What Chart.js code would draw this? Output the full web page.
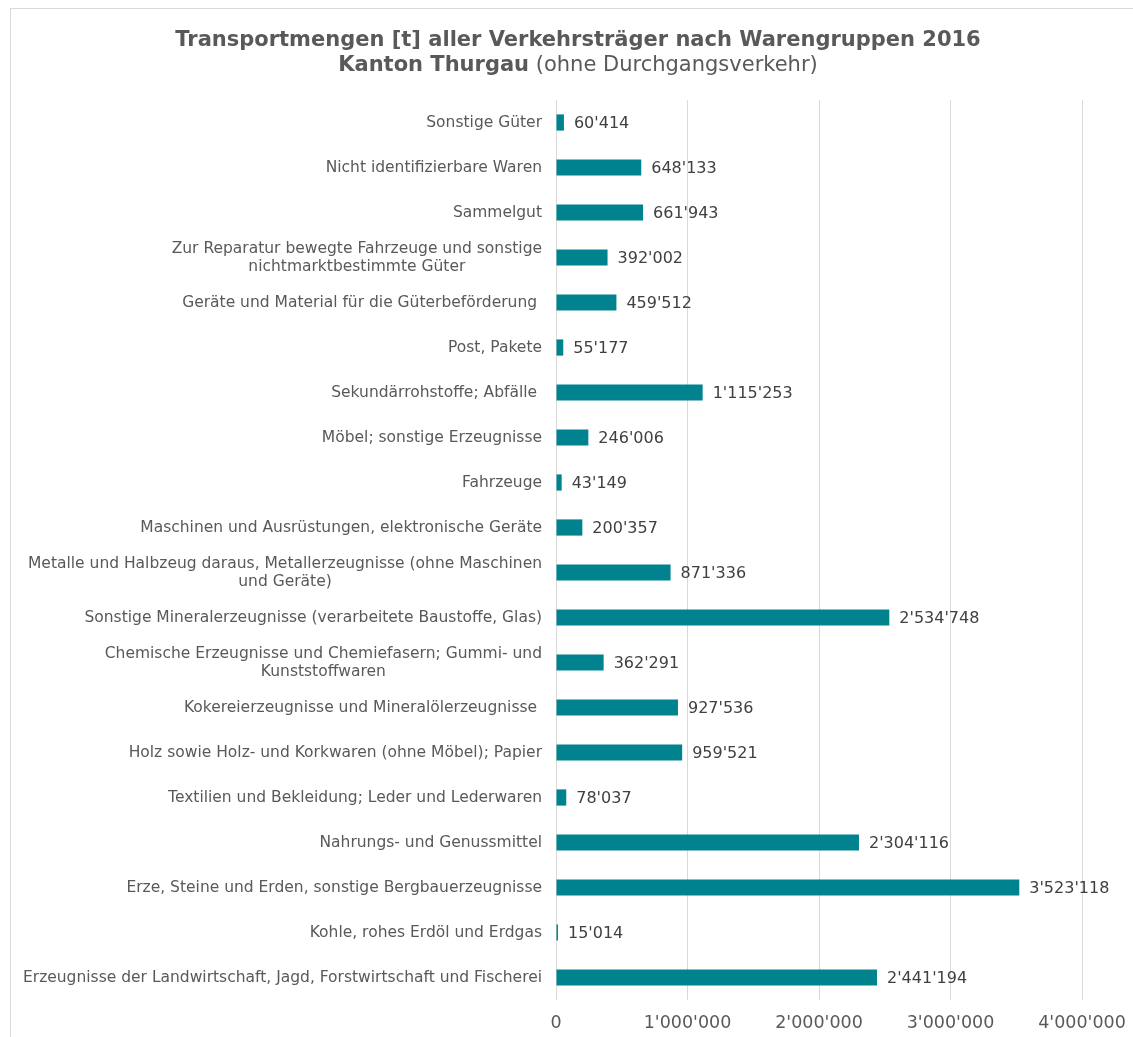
<!DOCTYPE html>
<html>
<head>
<meta charset="utf-8">
<title>Transportmengen Thurgau 2016</title>
<script src="https://cdn.jsdelivr.net/npm/chart.js@4"></script>
<style>
    body { margin: 0; background: #fff; font-family: "DejaVu Sans", Verdana, sans-serif; }
    #wrap { position: relative; width: 1133px; height: 1037px; overflow: hidden; }
    #frame { position: absolute; left: 10px; top: 8px; width: 1200px; height: 1100px; border: 1px solid #d9d9d9; }
    #title { position: absolute; left: 0; width: 1156px; top: 27px; text-align: center; color: #595959;
             font-size: 21px; line-height: 25px; }
    #title b { font-weight: bold; }
    #title span { font-weight: normal; }
    canvas { position: absolute; left: 0; top: 0; }
</style>
</head>
<body>
<div id="wrap">
    <div id="frame"></div>
    <canvas id="chart" width="1133" height="1037"></canvas>
    <div id="title">
        <b>Transportmengen [t] aller Verkehrsträger nach Warengruppen 2016</b><br>
        <b>Kanton Thurgau</b> <span>(ohne Durchgangsverkehr)</span>
    </div>
</div>
<script>
    // Warengruppen, von oben nach unten
    var categories = [
        'Sonstige Güter',
        'Nicht identifizierbare Waren',
        'Sammelgut',
        ['Zur Reparatur bewegte Fahrzeuge und sonstige', 'nichtmarktbestimmte Güter'],
        'Geräte und Material für die Güterbeförderung ',
        'Post, Pakete',
        'Sekundärrohstoffe; Abfälle ',
        'Möbel; sonstige Erzeugnisse',
        'Fahrzeuge',
        'Maschinen und Ausrüstungen, elektronische Geräte',
        ['Metalle und Halbzeug daraus, Metallerzeugnisse (ohne Maschinen', 'und Geräte)'],
        'Sonstige Mineralerzeugnisse (verarbeitete Baustoffe, Glas)',
        ['Chemische Erzeugnisse und Chemiefasern; Gummi- und', 'Kunststoffwaren'],
        'Kokereierzeugnisse und Mineralölerzeugnisse ',
        'Holz sowie Holz- und Korkwaren (ohne Möbel); Papier',
        'Textilien und Bekleidung; Leder und Lederwaren',
        'Nahrungs- und Genussmittel',
        'Erze, Steine und Erden, sonstige Bergbauerzeugnisse',
        'Kohle, rohes Erdöl und Erdgas',
        'Erzeugnisse der Landwirtschaft, Jagd, Forstwirtschaft und Fischerei'
    ];

    // Tonnen
    var tonnes = [
        60414, 648133, 661943, 392002, 459512, 55177, 1115253, 246006, 43149, 200357,
        871336, 2534748, 362291, 927536, 959521, 78037, 2304116, 3523118, 15014, 2441194
    ];

    var xTicks = [0, 1000000, 2000000, 3000000, 4000000];

    var FONT = '"DejaVu Sans", Verdana, sans-serif';

    function swiss(n) {
        return String(n).replace(/\B(?=(\d{3})+(?!\d))/g, "'");
    }

    // Kategorien wie in Excel: mehrzeilige Labels zentriert, Block rechtsbündig
    var categoryLabels = {
        id: 'categoryLabels',
        afterDraw: function(chart) {
            var ctx = chart.ctx;
            var yScale = chart.scales.y;
            var xRight = chart.chartArea.left - 14;
            var lineHeight = 18;

            ctx.save();
            ctx.font = '15.5px ' + FONT;
            ctx.fillStyle = '#595959';
            ctx.textAlign = 'center';
            ctx.textBaseline = 'middle';

            categories.forEach(function(label, i) {
                var lines = Array.isArray(label) ? label : [label];
                var widest = 0;
                lines.forEach(function(l) {
                    widest = Math.max(widest, ctx.measureText(l).width);
                });
                var y = yScale.getPixelForTick(i) - (lines.length - 1) * lineHeight / 2;
                lines.forEach(function(l, j) {
                    ctx.fillText(l, xRight - widest / 2, y + j * lineHeight);
                });
            });
            ctx.restore();
        }
    };

    // Werte rechts neben den Balken
    var valueLabels = {
        id: 'valueLabels',
        afterDatasetsDraw: function(chart) {
            var ctx = chart.ctx;
            var meta = chart.getDatasetMeta(0);

            ctx.save();
            ctx.font = '16px ' + FONT;
            ctx.fillStyle = '#404040';
            ctx.textAlign = 'left';
            ctx.textBaseline = 'middle';
            meta.data.forEach(function(bar, i) {
                ctx.fillText(swiss(tonnes[i]), bar.x + 10, bar.y + 1);
            });
            ctx.restore();
        }
    };

    new Chart(document.getElementById('chart'), {
        type: 'bar',
        data: {
            labels: categories,
            datasets: [{
                data: tonnes,
                backgroundColor: '#00838f',
                borderWidth: 0,
                barPercentage: 0.36,
                categoryPercentage: 1
            }]
        },
        options: {
            indexAxis: 'y',
            responsive: false,
            animation: false,
            layout: {
                padding: { top: 100, left: 10, right: 51, bottom: 0 }
            },
            plugins: {
                legend: { display: false },
                title: { display: false },
                tooltip: { enabled: false }
            },
            scales: {
                x: {
                    min: 0,
                    max: 4000000,
                    afterBuildTicks: function(scale) {
                        scale.ticks = xTicks.map(function(v) { return { value: v }; });
                    },
                    grid: { color: '#d9d9d9', drawTicks: false },
                    border: { display: false },
                    ticks: {
                        padding: 13,
                        color: '#595959',
                        font: { family: FONT, size: 17.5 },
                        callback: function(v) { return swiss(v); }
                    },
                    afterFit: function(scale) {
                        scale.height = 37;
                        // Randlabels duerfen ueberstehen, Plotbreite bleibt fix
                        scale.paddingLeft = 0;
                        scale.paddingRight = 0;
                    }
                },
                y: {
                    grid: { display: false },
                    border: { display: false },
                    ticks: { display: false },
                    afterFit: function(scale) { scale.width = 546; }
                }
            }
        },
        plugins: [categoryLabels, valueLabels]
    });
</script>
</body>
</html>
